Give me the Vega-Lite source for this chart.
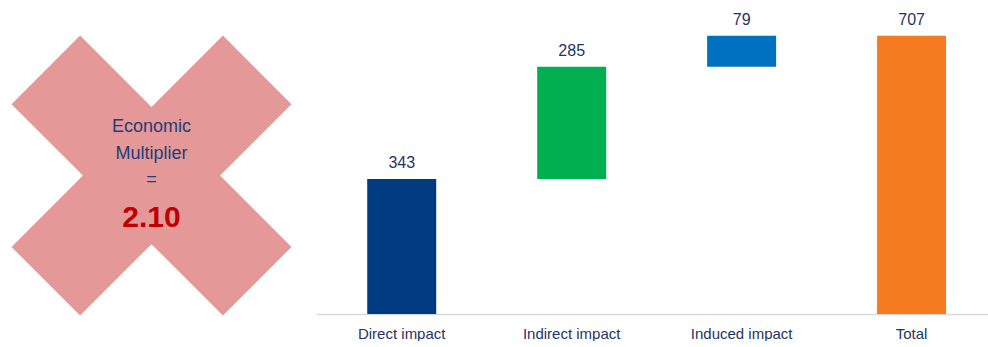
{
  "$schema": "https://vega.github.io/schema/vega-lite/v6.json",
  "padding": 0,
  "spacing": 16,
  "config": {"view": {"stroke": null}, "font": "Liberation Sans"},
  "datasets": {
    "impacts": [
      {"category": "Direct impact", "start": 0, "end": 343, "label": "343"},
      {"category": "Indirect impact", "start": 343, "end": 628, "label": "285"},
      {"category": "Induced impact", "start": 628, "end": 707, "label": "79"},
      {"category": "Total", "start": 0, "end": 707, "label": "707"}
    ],
    "multiplier": [
      {"x": 0.505, "y": 0.441, "line": "", "kind": "shape"},
      {"x": 0.505, "y": 0.594, "line": "Economic", "kind": "text"},
      {"x": 0.505, "y": 0.508, "line": "Multiplier", "kind": "text"},
      {"x": 0.505, "y": 0.426, "line": "=", "kind": "text"},
      {"x": 0.505, "y": 0.306, "line": "2.10", "kind": "value"}
    ]
  },
  "hconcat": [
    {
      "width": 300,
      "height": 314,
      "data": {"name": "multiplier"},
      "encoding": {
        "x": {"field": "x", "type": "quantitative", "scale": {"domain": [0, 1]}, "axis": null},
        "y": {"field": "y", "type": "quantitative", "scale": {"domain": [0, 1]}, "axis": null}
      },
      "layer": [
        {
          "transform": [{"filter": "datum.kind === 'shape'"}],
          "mark": {
            "type": "point",
            "filled": true,
            "shape": "M -1 -0.51 L -0.51 -1 L 0 -0.49 L 0.51 -1 L 1 -0.51 L 0.49 0 L 1 0.51 L 0.51 1 L 0 0.49 L -0.51 1 L -1 0.51 L -0.49 0 Z",
            "size": 78400,
            "color": "#E49898",
            "opacity": 1
          }
        },
        {
          "transform": [{"filter": "datum.kind === 'text'"}],
          "mark": {"type": "text", "fontSize": 18, "color": "#1F3D7A", "baseline": "middle", "align": "center"},
          "encoding": {"text": {"field": "line"}}
        },
        {
          "transform": [{"filter": "datum.kind === 'value'"}],
          "mark": {"type": "text", "fontSize": 30, "fontWeight": "bold", "color": "#C00000", "baseline": "middle", "align": "center"},
          "encoding": {"text": {"field": "line"}}
        }
      ]
    },
    {
      "width": 672,
      "height": 314,
      "data": {"name": "impacts"},
      "encoding": {
        "x": {
          "field": "category",
          "type": "nominal",
          "sort": null,
          "scale": {"paddingInner": 0.594, "paddingOuter": 0.274, "align": 0.55},
          "axis": {
            "title": null,
            "labelAngle": 0,
            "ticks": false,
            "domainColor": "#D9D9D9",
            "domainWidth": 1.5,
            "labelPadding": 12,
            "labelFontSize": 15,
            "labelColor": "#1F3564",
            "grid": false
          }
        },
        "y": {"field": "end", "type": "quantitative", "scale": {"domain": [0, 797.6], "nice": false}, "axis": null}
      },
      "layer": [
        {
          "mark": {"type": "bar"},
          "encoding": {
            "y2": {"field": "start"},
            "color": {
              "field": "category",
              "type": "nominal",
              "scale": {
                "domain": ["Direct impact", "Indirect impact", "Induced impact", "Total"],
                "range": ["#003A80", "#00B050", "#0070C0", "#F47B20"]
              },
              "legend": null
            }
          }
        },
        {
          "mark": {"type": "text", "baseline": "middle", "dy": -16, "fontSize": 16, "color": "#1F3564"},
          "encoding": {"text": {"field": "label"}}
        }
      ]
    }
  ]
}
